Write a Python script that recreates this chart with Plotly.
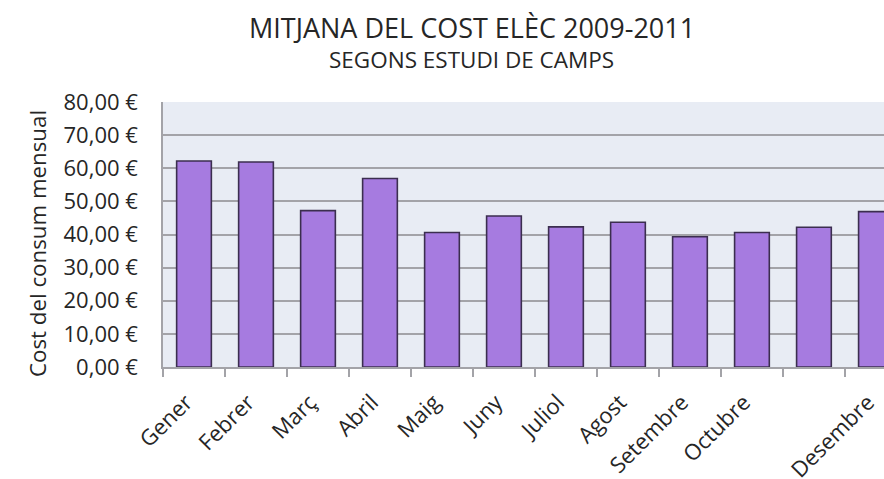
import plotly.graph_objects as go

months = ["Gener", "Febrer", "Març", "Abril", "Maig", "Juny", "Juliol",
          "Agost", "Setembre", "Octubre", "Novembre", "Desembre"]
tick_labels = ["Gener", "Febrer", "Març", "Abril", "Maig", "Juny", "Juliol",
               "Agost", "Setembre", "Octubre", "", "Desembre"]
cost = [62.2, 61.9, 47.2, 56.9, 40.6, 45.6, 42.3, 43.7, 39.3, 40.6, 42.2, 46.9]
y_ticks = [0, 10, 20, 30, 40, 50, 60, 70, 80]
y_tick_text = ["0,00 €", "10,00 €", "20,00 €", "30,00 €", "40,00 €",
               "50,00 €", "60,00 €", "70,00 €", "80,00 €"]

title = "MITJANA DEL COST ELÈC 2009-2011"
subtitle = "SEGONS ESTUDI DE CAMPS"
y_title = "Cost del consum mensual"

FONT = "Open Sans"
TXT = "#262626"
GRID = "#a3a3a8"

# full-window figure (body margin removed below); plot area 163..884 x 102..367
W, H = 884, 479
L, T, B = 163, 102, 112
PW, PH = W - L, H - T - B


def px(x):
    return (x - L) / PW


def py(y):
    return (H - B - y) / PH


fig = go.Figure(go.Bar(
    x=months, y=cost,
    marker=dict(color="#a67be0", line=dict(color="#3b2e4f", width=1.6)),
))

fig.update_layout(
    width=W, height=H,
    margin=dict(l=L, r=0, t=T, b=B, autoexpand=False),
    paper_bgcolor="white",
    plot_bgcolor="#e8ecf4",
    bargap=0.44,
    showlegend=False,
    hovermode=False,
    font=dict(family=FONT, color=TXT),
    xaxis=dict(
        type="category",
        automargin=False,
        range=[-0.5, 11.13],
        tickvals=months, ticktext=tick_labels,
        tickson="boundaries",
        ticks="outside", ticklen=8, tickwidth=1.5, tickcolor=GRID,
        ticklabelstandoff=12,
        ticklabelshift=-8,
        showline=True, linecolor=GRID, linewidth=1.5,
        showgrid=False,
        tickangle=-45,
        tickfont=dict(family=FONT, size=22, color=TXT),
    ),
    yaxis=dict(
        automargin=False,
        range=[0, 80],
        tickvals=y_ticks, ticktext=y_tick_text,
        ticks="outside", ticklen=19, tickcolor="rgba(0,0,0,0)",
        showline=True, linecolor=GRID, linewidth=1.5,
        showgrid=True, gridcolor=GRID, gridwidth=1.5,
        zeroline=False,
        tickfont=dict(family=FONT, size=22, color=TXT),
    ),
    annotations=[
        dict(text=title, x=px(471.5), y=py(27), xref="paper", yref="paper",
             xanchor="center", yanchor="middle", showarrow=False,
             font=dict(family=FONT, size=27, color=TXT)),
        dict(text=subtitle, x=px(471.5), y=py(59), xref="paper", yref="paper",
             xanchor="center", yanchor="middle", showarrow=False,
             font=dict(family=FONT, size=22.5, color=TXT)),
        dict(text=y_title, textangle=-90, x=px(37), y=py(244),
             xref="paper", yref="paper", xanchor="center", yanchor="middle",
             showarrow=False, font=dict(family=FONT, size=22.3, color=TXT)),
    ],
)

fig.write_html(
    "out.html",
    config={"displayModeBar": False},
    post_script=(
        "document.documentElement.style.margin='0';"
        "document.body.style.margin='0';"
        "document.documentElement.style.overflow='hidden';"
        "document.body.style.overflow='hidden';"
    ),
)
